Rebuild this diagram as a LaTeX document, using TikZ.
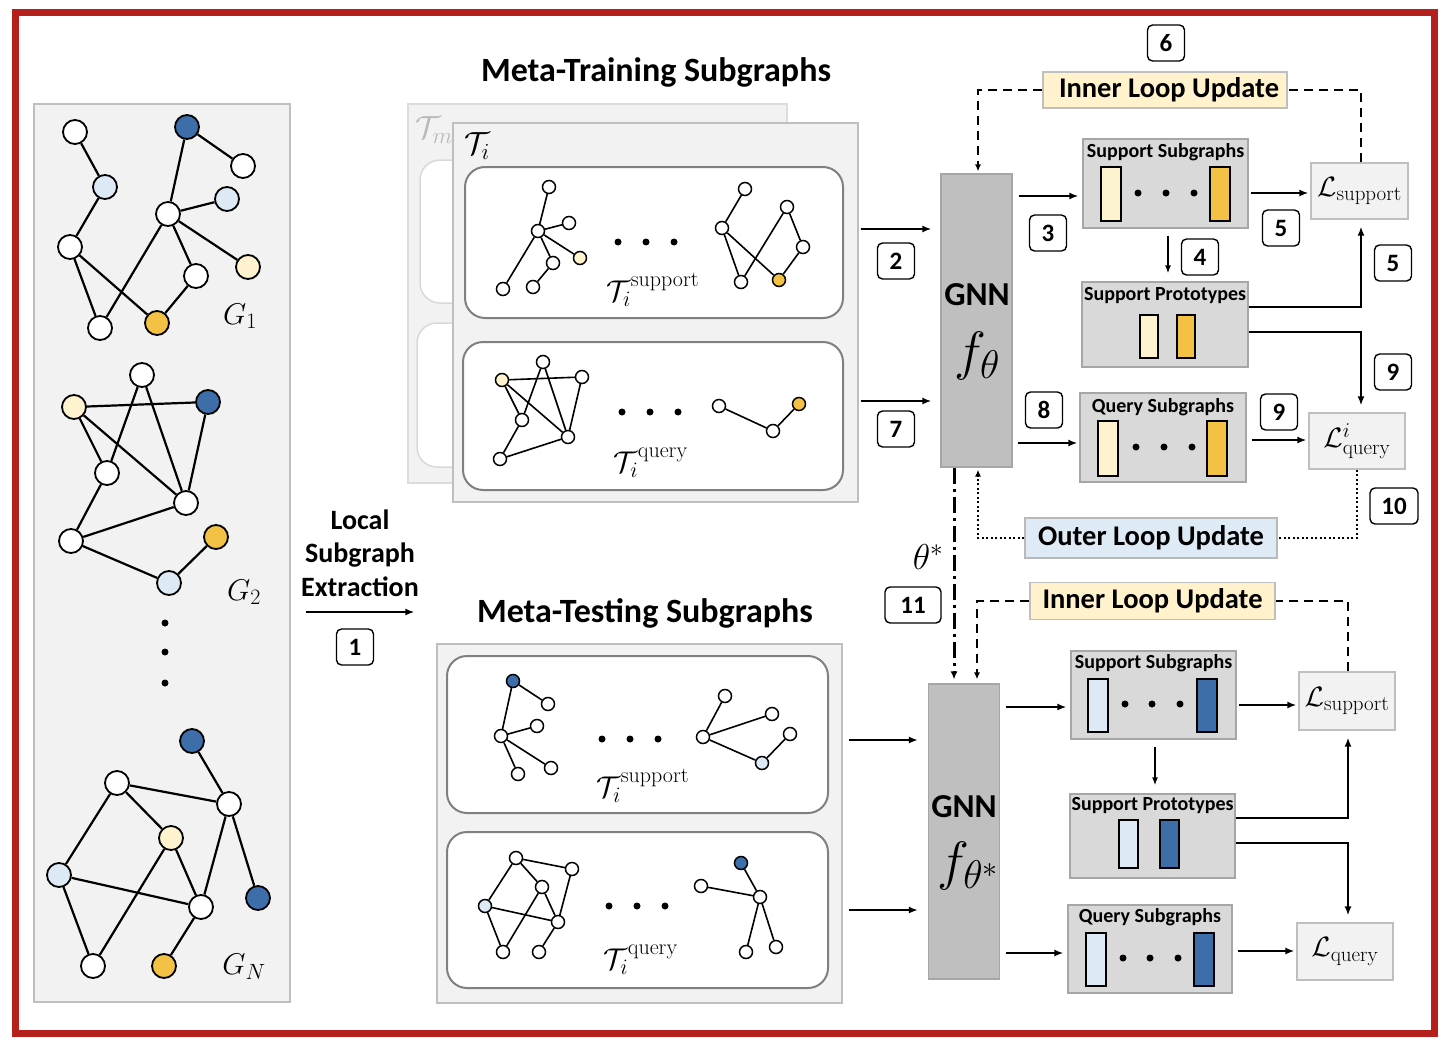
\RequirePackage{fix-cm}
\documentclass[tikz,border=0pt]{standalone}
\usepackage[no-math]{fontspec}
\setmainfont{Carlito}
\usetikzlibrary{arrows.meta}
\DeclareMathSizes{28}{28}{21}{15}
\DeclareMathSizes{30}{30}{22}{16}
\DeclareMathSizes{32}{32}{23}{17}
\DeclareMathSizes{54}{54}{40}{30}
\definecolor{redframe}{RGB}{181,32,28}
\definecolor{panelfill}{RGB}{242,242,242}
\definecolor{paneldraw}{RGB}{191,191,191}
\definecolor{cdb}{RGB}{62,110,170}
\definecolor{cgold}{RGB}{243,193,67}
\definecolor{cly}{RGB}{255,242,206}
\definecolor{clb}{RGB}{222,233,246}
\definecolor{gnnfill}{RGB}{191,191,191}
\definecolor{gnndraw}{RGB}{166,166,166}
\definecolor{featfill}{RGB}{217,217,217}
\definecolor{innerfill}{RGB}{255,242,204}
\definecolor{outerfill}{RGB}{222,235,247}
\definecolor{roundgray}{RGB}{128,128,128}
\begin{document}
\begin{tikzpicture}[x=1pt,y=-1pt,
  gnode/.style={circle,draw=black,line width=1.8pt,inner sep=0pt,minimum size=24pt,fill=white},
  snode/.style={circle,draw=black,line width=1.5pt,inner sep=0pt,minimum size=13pt,fill=white},
  gedge/.style={line width=2.2pt},
  sedge/.style={line width=1.6pt},
  panel/.style={draw=paneldraw,fill=panelfill,line width=1.2pt,inner sep=0pt},
  rbox/.style={draw=roundgray,fill=white,line width=2pt,rounded corners=20pt,inner sep=0pt},
  gnnbox/.style={draw=gnndraw,fill=gnnfill,line width=1.2pt,inner sep=0pt},
  featbox/.style={draw=gnndraw,fill=featfill,line width=1.2pt,inner sep=0pt},
  lossbox/.style={draw=paneldraw,fill=panelfill,line width=1.2pt,inner sep=0pt,font=\fontsize{28}{28}\selectfont},
  bar/.style={draw=black,line width=2pt,inner sep=0pt,minimum width=20pt},
  updbox/.style={draw=paneldraw,line width=1.2pt,inner sep=0pt,font=\fontsize{28.5}{28.5}\selectfont\bfseries},
  boxtitle/.style={font=\fontsize{20}{20}\selectfont\bfseries,inner sep=0pt},
  bigtitle/.style={font=\fontsize{34}{34}\selectfont\bfseries,inner sep=0pt},
  numbox/.style={draw=black,line width=1.4pt,rounded corners=5pt,minimum width=37pt,minimum height=36pt,inner sep=0pt,font=\fontsize{25}{25}\selectfont\bfseries},
  arr/.style={line width=2.2pt,-{Latex[length=9pt,width=7pt]}},
  thinarr/.style={line width=1.6pt,-{Latex[length=8pt,width=6pt]}},
  dashedc/.style={line width=2.2pt,dash pattern=on 9pt off 6pt},
  dottedc/.style={line width=2.2pt,dash pattern=on 2pt off 2.5pt},
  dashdotc/.style={line width=3pt,dash pattern=on 16pt off 5pt on 3pt off 5pt},
  mathlab/.style={inner sep=0pt}
]
\useasboundingbox (0,0) rectangle (1450,1054);
\fill[white] (0,0) rectangle (1450,1054);
\draw[line width=7pt,redframe] (15.5,12.5) rectangle (1434.5,1033.5);

% ---------------- left panel ----------------
\node[panel,minimum width=256pt,minimum height=898pt] (lp) at (162,553) {};
\foreach \n/\x/\y/\c in {g1a/75/132/white,g1b/187/127/cdb,g1c/243/166/white,g1d/105/187/clb,g1e/227/199/clb,g1f/168/214/white,g1g/70/247/white,g1h/248/267/cly,g1i/196/276/white,g1j/100/328/white,g1k/157/323/cgold,
  g2a/142/375/white,g2b/74/407/cly,g2c/208/402/cdb,g2d/107/473/white,g2e/186/503/white,g2f/71/541/white,g2g/216/537/cgold,g2h/169/583/clb,
  gna/192/741/cdb,gnb/117/783/white,gnc/229/804/white,gnd/171/838/cly,gne/59/875/clb,gnf/201/907/white,gng/258/898/cdb,gnh/93/966/white,gni/164/966/cgold}
  {\node[gnode,fill=\c] (\n) at (\x,\y) {};}
\foreach \a/\b in {g1a/g1d,g1d/g1g,g1b/g1f,g1b/g1c,g1f/g1e,g1f/g1h,g1f/g1i,g1f/g1j,g1g/g1j,g1g/g1k,g1i/g1k,
  g2b/g2c,g2a/g2d,g2a/g2e,g2b/g2d,g2b/g2e,g2c/g2e,g2d/g2f,g2f/g2e,g2f/g2h,g2h/g2g,
  gna/gnc,gnb/gnc,gnb/gnd,gnb/gne,gnd/gnf,gnd/gnh,gne/gnf,gne/gnh,gnc/gnf,gnc/gng,gnf/gni}
  {\draw[gedge] (\a) -- (\b);}
\foreach \y in {623,652,683} {\fill (165,\y) circle (3.5pt);}
\node[mathlab,font=\fontsize{30}{30}\selectfont] (lg1) at (240,316) {$G_1$};
\node[mathlab,font=\fontsize{30}{30}\selectfont] (lg2) at (244,592) {$G_2$};
\node[mathlab,font=\fontsize{30}{30}\selectfont] (lgn) at (244,967) {$G_N$};

% ---------------- local subgraph extraction ----------------
\node[align=center,font=\fontsize{28}{33.5}\selectfont\bfseries,inner sep=0pt] (lsetext) at (360,553) {Local\\Subgraph\\Extraction};

% ---------------- meta-training ----------------
\node[bigtitle] (trtitle) at (656,72) {Meta-Training Subgraphs};
\node[panel,draw=paneldraw!55,minimum width=379pt,minimum height=379pt] (tback) at (597.5,293.5) {};
\node[mathlab,text=gray!55,font=\fontsize{32}{32}\selectfont] (tmlab) at (434,130) {$\mathcal{T}_m$};
\node[rbox,draw=gray!30,line width=1.5pt,minimum width=150pt,minimum height=143pt] (ghost1) at (495,231.5) {};
\node[rbox,draw=gray!30,line width=1.5pt,minimum width=150pt,minimum height=144pt] (ghost2) at (492,395) {};
\node[panel,minimum width=405pt,minimum height=379pt] (tpanel) at (655.5,312.5) {};
\node[mathlab,font=\fontsize{32}{32}\selectfont] (tilab) at (477,146) {$\mathcal{T}_i$};
\node[rbox,minimum width=378pt,minimum height=151pt] (tsup) at (654,242.5) {};
\node[rbox,minimum width=380pt,minimum height=148pt] (tqry) at (653,416) {};

\foreach \n/\x/\y/\c in {ta1/549/187/white,ta2/538/231/white,ta3/569/223/white,ta4/580/258/cly,ta5/553/263/white,ta6/503/289/white,ta7/533/287/white,
  tb1/745/189/white,tb2/722/228/white,tb3/787/207/white,tb4/803/247/white,tb5/741/282/white,tb6/779/280/cgold,
  tc1/543/362/white,tc2/502/380/cly,tc3/582/377/white,tc4/522/420/white,tc5/568/437/white,tc6/500/459/white,
  td1/719/406/white,td2/773/431/white,td3/799/404/cgold}
  {\node[snode,fill=\c] (\n) at (\x,\y) {};}
\foreach \a/\b in {ta1/ta2,ta2/ta3,ta2/ta4,ta2/ta5,ta2/ta6,ta5/ta7,
  tb1/tb2,tb2/tb5,tb2/tb6,tb3/tb5,tb3/tb4,tb4/tb6,
  tc2/tc3,tc1/tc4,tc1/tc5,tc2/tc4,tc2/tc5,tc3/tc5,tc4/tc6,tc6/tc5,
  td1/td2,td2/td3}
  {\draw[sedge] (\a) -- (\b);}
\foreach \x in {618,646,674} {\fill (\x,242) circle (3.5pt);}
\foreach \x in {622,650,678} {\fill (\x,412) circle (3.5pt);}
\node[mathlab,font=\fontsize{30}{30}\selectfont] (tsuplab) at (653,290) {$\mathcal{T}_i^{\mathrm{support}}$};
\node[mathlab,font=\fontsize{30}{30}\selectfont] (tqrylab) at (651,463) {$\mathcal{T}_i^{\mathrm{query}}$};

% ---------------- meta-testing ----------------
\node[bigtitle] (tetitle) at (645,613) {Meta-Testing Subgraphs};
\node[panel,minimum width=405pt,minimum height=359pt] (epanel) at (639.5,823.5) {};
\node[rbox,minimum width=381pt,minimum height=157pt] (esup) at (637.5,734.5) {};
\node[rbox,minimum width=381pt,minimum height=156pt] (eqry) at (637.5,910) {};
\foreach \n/\x/\y/\c in {ea1/513/681/cdb,ea2/548/704/white,ea3/537/726/white,ea4/501/736/white,ea5/518/774/white,ea6/551/768/white,
  eb1/725/696/white,eb2/772/714/white,eb3/790/734/white,eb4/703/737/white,eb5/762/763/clb,
  ec1/516/858/white,ec2/572/869/white,ec3/542/887/white,ec4/485/906/clb,ec5/558/922/white,ec6/503/952/white,ec7/539/952/white,
  ed1/741/863/cdb,ed2/701/886/white,ed3/760/897/white,ed4/746/952/white,ed5/776/947/white}
  {\node[snode,fill=\c] (\n) at (\x,\y) {};}
\foreach \a/\b in {ea1/ea2,ea1/ea4,ea4/ea3,ea4/ea5,ea4/ea6,
  eb1/eb4,eb4/eb2,eb4/eb5,eb5/eb3,
  ec1/ec2,ec1/ec3,ec1/ec4,ec2/ec5,ec3/ec5,ec3/ec6,ec4/ec5,ec4/ec6,ec5/ec7,
  ed1/ed3,ed2/ed3,ed3/ed4,ed3/ed5}
  {\draw[sedge] (\a) -- (\b);}
\foreach \x in {602,630,658} {\fill (\x,739) circle (3.5pt);}
\foreach \x in {609,637,665} {\fill (\x,906) circle (3.5pt);}
\node[mathlab,font=\fontsize{30}{30}\selectfont] (esuplab) at (643,786) {$\mathcal{T}_i^{\mathrm{support}}$};
\node[mathlab,font=\fontsize{30}{30}\selectfont] (eqrylab) at (641,960) {$\mathcal{T}_i^{\mathrm{query}}$};

% ---------------- GNN boxes ----------------
\node[gnnbox,minimum width=71pt,minimum height=293pt] (gnn1) at (976.5,320.5) {};
\node[inner sep=0pt,font=\fontsize{33.5}{33.5}\selectfont\bfseries] (gnn1t) at (977,295) {GNN};
\node[mathlab,font=\fontsize{54}{54}\selectfont] (gnn1f) at (977,356) {$f_{\theta}$};
\node[gnnbox,minimum width=71pt,minimum height=295pt] (gnn2) at (964,831.5) {};
\node[inner sep=0pt,font=\fontsize{33.5}{33.5}\selectfont\bfseries] (gnn2t) at (964,807) {GNN};
\node[mathlab,font=\fontsize{54}{54}\selectfont] (gnn2f) at (968,866) {$f_{\theta^{*}}$};
\node[mathlab,font=\fontsize{36}{36}\selectfont] (thetalab) at (928,557) {$\theta^{*}$};

% ---------------- top right (meta-training) ----------------
\node[featbox,minimum width=165pt,minimum height=89pt] (ss1) at (1165.5,183.5) {};
\node[boxtitle] (ss1t) at (1165.5,152) {Support Subgraphs};
\node[bar,fill=cly,minimum height=54pt] (ss1a) at (1111,194) {};
\node[bar,fill=cgold,minimum height=54pt] (ss1b) at (1220,194) {};
\foreach \x in {1138,1166,1194} {\fill (\x,193) circle (3.5pt);}

\node[featbox,minimum width=166pt,minimum height=85pt] (sp1) at (1165,324.5) {};
\node[boxtitle] (sp1t) at (1165,296) {Support Prototypes};
\node[bar,fill=cly,minimum width=18pt,minimum height=43pt] (sp1a) at (1149,336.5) {};
\node[bar,fill=cgold,minimum width=18pt,minimum height=43pt] (sp1b) at (1186,336.5) {};

\node[featbox,minimum width=166pt,minimum height=89pt] (qs1) at (1163,437.5) {};
\node[boxtitle] (qs1t) at (1163,407) {Query Subgraphs};
\node[bar,fill=cly,minimum height=55pt] (qs1a) at (1108,448.5) {};
\node[bar,fill=cgold,minimum height=55pt] (qs1b) at (1216.5,448.5) {};
\foreach \x in {1136,1164,1192} {\fill (\x,447) circle (3.5pt);}

\node[lossbox,minimum width=97pt,minimum height=56pt] (lsup1) at (1359.5,191) {$\mathcal{L}_{\mathrm{support}}$};
\node[lossbox,minimum width=96pt,minimum height=56pt] (lq1) at (1357,441) {$\mathcal{L}^{i}_{\mathrm{query}}$};

\node[updbox,fill=innerfill,minimum width=244pt,minimum height=36pt] (inner1) at (1165,90) {\hspace{8pt}Inner Loop Update};
\node[updbox,fill=outerfill,draw=gray!55,minimum width=252pt,minimum height=40pt] (outer) at (1151,538) {Outer Loop Update};
\node[updbox,fill=innerfill,minimum width=245pt,minimum height=37pt] (inner2) at (1152.5,601) {Inner Loop Update};

% ---------------- bottom right (meta-testing) ----------------
\node[featbox,minimum width=165pt,minimum height=88pt] (ss2) at (1153.5,695) {};
\node[boxtitle] (ss2t) at (1153.5,663) {Support Subgraphs};
\node[bar,fill=clb,minimum height=53pt] (ss2a) at (1098,705.5) {};
\node[bar,fill=cdb,minimum height=53pt] (ss2b) at (1207,705.5) {};
\foreach \x in {1125,1152,1180} {\fill (\x,704) circle (3.5pt);}

\node[featbox,minimum width=165pt,minimum height=84pt] (sp2) at (1152.5,836) {};
\node[boxtitle] (sp2t) at (1152.5,806) {Support Prototypes};
\node[bar,fill=clb,minimum width=19pt,minimum height=48pt] (sp2a) at (1128.5,844) {};
\node[bar,fill=cdb,minimum width=19pt,minimum height=48pt] (sp2b) at (1169.5,844) {};

\node[featbox,minimum width=164pt,minimum height=88pt] (qs2) at (1150,949) {};
\node[boxtitle] (qs2t) at (1150,917) {Query Subgraphs};
\node[bar,fill=clb,minimum height=53pt] (qs2a) at (1095.5,959.5) {};
\node[bar,fill=cdb,minimum height=53pt] (qs2b) at (1204,959.5) {};
\foreach \x in {1123,1150,1178} {\fill (\x,958) circle (3.5pt);}

\node[lossbox,minimum width=96pt,minimum height=58pt] (lsup2) at (1347,701) {$\mathcal{L}_{\mathrm{support}}$};
\node[lossbox,minimum width=96pt,minimum height=57pt] (lq2) at (1345,951.5) {$\mathcal{L}_{\mathrm{query}}$};

% ---------------- number boxes ----------------
\node[numbox] (n1) at (355,647) {1};
\node[numbox] (n2) at (896,261) {2};
\node[numbox] (n3) at (1048,233) {3};
\node[numbox] (n4) at (1200,257) {4};
\node[numbox] (n5a) at (1281,228) {5};
\node[numbox] (n5b) at (1393,263) {5};
\node[numbox] (n6) at (1166,43) {6};
\node[numbox] (n7) at (896,429) {7};
\node[numbox] (n8) at (1044,410) {8};
\node[numbox] (n9a) at (1279,412) {9};
\node[numbox] (n9b) at (1393,372) {9};
\node[numbox,minimum width=48pt] (n10) at (1394,506) {10};
\node[numbox,minimum width=56pt] (n11) at (913,605) {11};

% ---------------- connectors ----------------
\draw[arr,shorten <=15pt,shorten >=22pt] (lp.east |- 0,612) -- (epanel.west |- 0,612);
\draw[arr,shorten <=2pt,shorten >=9pt] (tpanel.east |- 0,229) -- (gnn1.west |- 0,229);
\draw[arr,shorten <=2pt,shorten >=9pt] (tpanel.east |- 0,401) -- (gnn1.west |- 0,401);
\draw[arr,shorten <=6pt,shorten >=4pt] (gnn1.east |- 0,196) -- (ss1.west |- 0,196);
\draw[arr,shorten <=2pt,shorten >=2pt] (ss1.east |- 0,193) -- (lsup1.west |- 0,193);
\draw[thinarr,shorten <=7pt,shorten >=8pt] (ss1.south -| 1168,0) -- (sp1.north -| 1168,0);
\draw[arr,line width=2.6pt,shorten >=7pt] (sp1.east |- 0,307) -| (lsup1.south -| 1361,0);
\draw[arr,line width=2.6pt,shorten >=7pt] (sp1.east |- 0,332) -| (lq1.north -| 1361,0);
\draw[arr,shorten <=5pt,shorten >=2pt] (gnn1.east |- 0,443) -- (qs1.west |- 0,443);
\draw[arr,shorten <=5pt,shorten >=2pt] (qs1.east |- 0,440) -- (lq1.west |- 0,440);
\draw[dashedc] (lsup1.north -| 1361,0) |- (inner1.east);
\draw[dashedc,-{Latex[length=7pt,width=6pt]},shorten >=2pt] (inner1.west) -| (gnn1.north -| 978,0);
\draw[dottedc] (lq1.south -| 1357,0) |- (outer.east);
\draw[dottedc,-{Latex[length=7pt,width=6pt]},shorten >=2pt] (outer.west) -| (gnn1.south -| 978,0);
\draw[dashdotc,-{Latex[length=8pt,width=7pt]},shorten >=4pt] (gnn1.south -| 954,0) -- (gnn2.north -| 954,0);
\draw[dashedc] (lsup2.north -| 1348,0) |- (inner2.east);
\draw[dashedc,-{Latex[length=7pt,width=6pt]},shorten >=4pt] (inner2.west) -| (gnn2.north -| 977,0);
\draw[arr,shorten <=6pt,shorten >=10pt] (epanel.east |- 0,740) -- (gnn2.west |- 0,740);
\draw[arr,shorten <=6pt,shorten >=10pt] (epanel.east |- 0,910) -- (gnn2.west |- 0,910);
\draw[arr,shorten <=6pt,shorten >=4pt] (gnn2.east |- 0,707) -- (ss2.west |- 0,707);
\draw[arr,shorten <=2pt,shorten >=2pt] (ss2.east |- 0,705) -- (lsup2.west |- 0,705);
\draw[thinarr,shorten <=7pt,shorten >=8pt] (ss2.south -| 1155,0) -- (sp2.north -| 1155,0);
\draw[arr,line width=2.6pt,shorten >=7pt] (sp2.east |- 0,818) -| (lsup2.south -| 1348,0);
\draw[arr,line width=2.6pt,shorten >=7pt] (sp2.east |- 0,843) -| (lq2.north -| 1348,0);
\draw[arr,shorten <=6pt,shorten >=4pt] (gnn2.east |- 0,953) -- (qs2.west |- 0,953);
\draw[arr,shorten <=5pt,shorten >=2pt] (qs2.east |- 0,951) -- (lq2.west |- 0,951);
\end{tikzpicture}
\end{document}
